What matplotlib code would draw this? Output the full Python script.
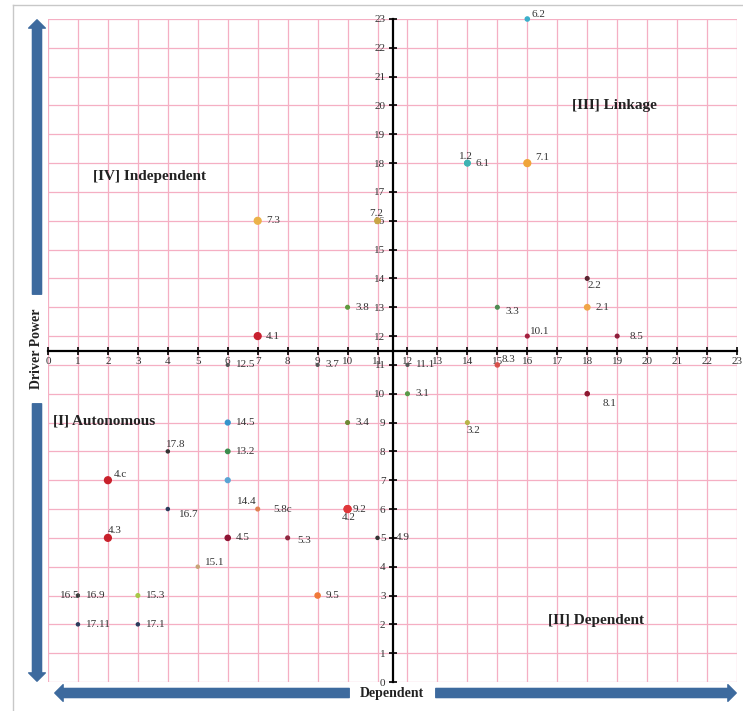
import matplotlib
matplotlib.use("Agg")
import matplotlib.pyplot as plt
from matplotlib.patches import FancyArrowPatch
from matplotlib.lines import Line2D

plt.rcParams["font.family"] = ["Liberation Serif", "DejaVu Serif"]

# MICMAC points: dependence (x), driving power (y)
labels = ["7.3", "4.1", "3.8", "7.2", "6.2", "1.2", "6.1", "7.1", "2.2", "2.1",
          "3.3", "10.1", "8.5", "8.3", "11.1", "12.5", "3.7", "3.1", "3.2", "8.1",
          "3.4", "14.5", "17.8", "13.2", "4.c", "14.4", "5.8c", "16.7", "4.3", "4.5",
          "5.3", "15.1", "9.2", "4.2", "4.9", "9.5", "16.5", "16.9", "15.3", "17.11",
          "17.1"]
dependence = [7, 7, 10, 11, 16, 14, 14, 16, 18, 18,
              15, 16, 19, 15, 12, 6, 9, 12, 14, 18,
              10, 6, 4, 6, 2, 6, 7, 4, 2, 6,
              8, 5, 10, 10, 11, 9, 1, 1, 3, 1,
              3]
driving = [16, 12, 13, 16, 23, 18, 18, 18, 14, 13,
           13, 12, 12, 11, 11, 11, 11, 10, 9, 10,
           9, 9, 8, 8, 7, 7, 6, 6, 5, 5,
           5, 4, 6, 6, 5, 3, 3, 3, 3, 2,
           2]

# marker colour / size per point
colors = ["#EBB24A", "#C8202E", "#5E9A3E", "#C9A546", "#3BAFCB", "#3FB3B3", "#3FB3B3", "#F0A43A", "#5A2430", "#F0A548",
          "#4E8C52", "#A3203E", "#8E1E3A", "#D8504A", "#555555", "#555555", "#555555", "#5A9A48", "#B8B448", "#8E1830",
          "#6E8A34", "#3594CC", "#333333", "#3C8C4C", "#C8202A", "#5AA4D4", "#E08050", "#2C3C5C", "#C8202A", "#8E1434",
          "#8E2840", "#C8A478", "#E0363A", "#E0363A", "#333333", "#F07838", "#444444", "#444444", "#A8C848", "#2C3C5C",
          "#2C3C5C"]
sizes = [24, 24, 7, 16, 9, 15, 15, 24, 7, 15,
         7, 7, 7, 9, 4, 4, 4, 7, 7, 9,
         7, 12, 5, 10, 24, 12, 7, 5, 24, 14,
         7, 5, 24, 24, 5, 14, 4, 4, 7, 5,
         5]

# label offsets (points) where not simply to the right
offsets = {
    "7.2": (-6, 5, "left"), "6.2": (3, 3, "left"), "1.2": (-6, 5, "left"),
    "7.1": (6, 4, "left"), "2.2": (0, -5, "left"), "3.3": (6, -3, "left"),
    "10.1": (2, 3, "left"), "8.5": (9, 0, "left"), "8.3": (3, 4, "left"),
    "3.2": (-1, -6, "left"), "8.1": (11, -7, "left"), "17.8": (-1, 5, "left"),
    "4.c": (4, 4, "left"), "14.4": (7, -15, "left"), "5.8c": (11, 0, "left"),
    "16.7": (8, -4, "left"), "4.3": (0, 5, "left"), "5.3": (7, -2, "left"),
    "15.1": (5, 3, "left"), "4.2": (-4, -6, "left"), "16.5": (-6, 0, "center"),
    "16.9": (13, 0, "center"), "9.2": (4, 0, "left"), "4.9": (13, 0, "left"),
}

W, H = 743, 711
fig = plt.figure(figsize=(W / 100, H / 100), dpi=100)
ax = fig.add_axes([48 / W, 29 / H, 689 / W, 663 / H])
ax.set_xlim(0, 23)
ax.set_ylim(0, 23)

for s in ["top", "right"]:
    ax.spines[s].set_visible(False)
ax.spines["left"].set_position(("data", 11.5))
ax.spines["bottom"].set_position(("data", 11.5))
for s in ["left", "bottom"]:
    ax.spines[s].set_linewidth(1.6)
    ax.spines[s].set_zorder(4)

ax.set_xticks(range(24))
ax.set_yticks(range(24))
ax.tick_params(direction="inout", length=6, width=1.2, labelsize=8,
               labelcolor="#333333", pad=2)
ax.grid(True, color="#F5AFC3", lw=0.9)
ax.set_axisbelow(True)

ax.scatter(dependence, driving, s=sizes, c=colors, zorder=5, clip_on=False)

for lab, x, y in zip(labels, dependence, driving):
    dx, dy, ha = offsets.get(lab, (6, 0, "left"))
    ax.annotate(lab, (x, y), xytext=(dx, dy), textcoords="offset points",
                ha=ha, va="center", fontsize=8, color="#333333", zorder=6,
                annotation_clip=False)

quad = dict(fontsize=11, fontweight="bold", color="#222222", va="center")
ax.text(1.5, 17.55, "[IV] Independent", **quad)
ax.text(17.5, 20.0, "[III] Linkage", **quad)
ax.text(0.17, 9.05, "[I] Autonomous", **quad)
ax.text(16.7, 2.15, "[II] Dependent", **quad)

# big blue arrows around the chart (figure pixels, origin bottom-left)
arrow_col = "#3D6A9E"
style = "simple,head_length=0.5,head_width=1.0,tail_width=0.55"
for tail, head in [((37, 414), (37, 694)), ((37, 310), (37, 27)),
                   ((352, 18), (52, 18)), ((433, 18), (739, 18))]:
    p = FancyArrowPatch((tail[0] / 100, tail[1] / 100), (head[0] / 100, head[1] / 100),
                        arrowstyle=style, mutation_scale=12, color=arrow_col,
                        transform=fig.dpi_scale_trans)
    fig.add_artist(p)

fig.text(37 / W, 362 / H, "Driver Power", rotation=90, ha="center", va="center",
         fontsize=10, fontweight="bold", color="#222222")
fig.text(392 / W, 18 / H, "Dependent", ha="center", va="center",
         fontsize=10, fontweight="bold", color="#222222")

# thin grey frame
fig.add_artist(Line2D([13 / W, 13 / W], [0, 1 - 5 / H], transform=fig.transFigure,
                      color="#C8C8C8", lw=1))
fig.add_artist(Line2D([13 / W, 1], [1 - 5 / H, 1 - 5 / H], transform=fig.transFigure,
                      color="#C8C8C8", lw=1))

fig.savefig("out.png", dpi=100)
